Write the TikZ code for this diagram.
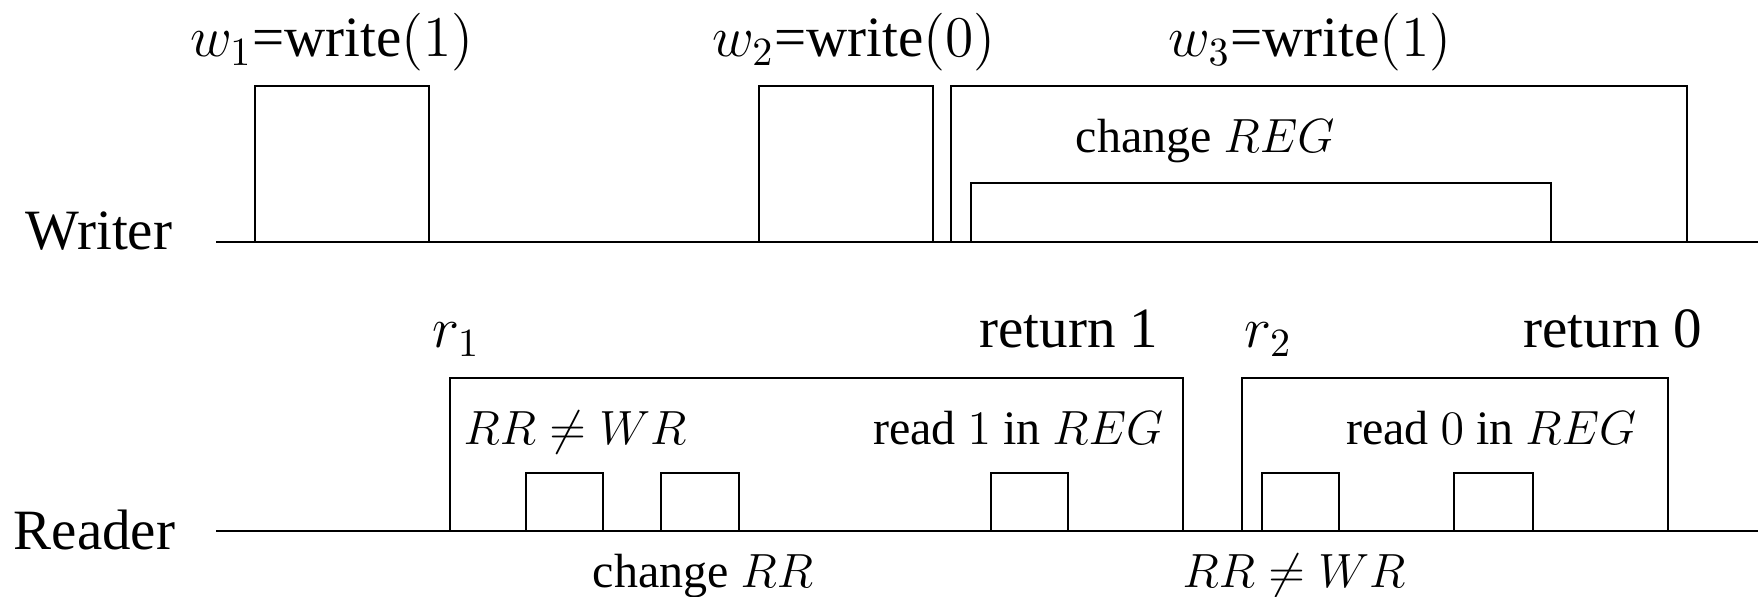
\documentclass[tikz,border=0pt]{standalone}
\usepackage[no-math]{fontspec}
\setmainfont{Liberation Serif}
\begin{document}
\begin{tikzpicture}[x=0.25pt,y=-0.25pt,
  line width=0.35pt,
  big/.style={inner sep=0pt,font=\fontsize{14.25}{17}\selectfont},
  small/.style={inner sep=0pt,font=\fontsize{12}{14}\selectfont}]
\useasboundingbox (0,0) rectangle (1758,597);

% time lines
\node[big,anchor=base west] (writer) at (25,250) {Writer};
\node[big,anchor=base west] (reader) at (13,550) {Reader};
\coordinate (wl0) at (216,242);
\coordinate (wl1) at (1758,242);
\coordinate (rl0) at (216,531);
\coordinate (rl1) at (1758,531);
\draw (wl0) -- (wl1);
\draw (rl0) -- (rl1);

% writer operations
\draw (255,242) |- (429,86) -- (429,242);
\draw (759,242) |- (933,86) -- (933,242);
\draw (951,242) |- (1687,86) -- (1687,242);
\draw (971,242) |- (1551,183) -- (1551,242);

\node[big,anchor=base] (w1) at (332,57) {$w_1$=write$(1)$};
\node[big,anchor=base] (w2) at (854,57) {$w_2$=write$(0)$};
\node[big,anchor=base] (w3) at (1310,57) {$w_3$=write$(1)$};
\node[small,anchor=base west] (chreg) at (1075,153) {change $REG$};

% reader operations
\draw (450,531) |- (1183,378) -- (1183,531);
\draw (526,531) |- (603,473) -- (603,531);
\draw (661,531) |- (739,473) -- (739,531);
\draw (991,531) |- (1068,473) -- (1068,531);
\draw (1242,531) |- (1668,378) -- (1668,531);
\draw (1262,531) |- (1339,473) -- (1339,531);
\draw (1454,531) |- (1533,473) -- (1533,531);

\node[big,anchor=base west] (r1) at (432,348) {$r_1$};
\node[big,anchor=base east] (ret1) at (1159,348) {return 1};
\node[big,anchor=base west] (r2) at (1244,348) {$r_2$};
\node[big,anchor=base east] (ret0) at (1703,348) {return 0};

\node[small,anchor=base west] (neq1) at (463,445) {$RR\neq WR$};
\node[small,anchor=base east] (rd1) at (1164,445) {read $1$ in $REG$};
\node[small,anchor=base east] (rd0) at (1637,445) {read $0$ in $REG$};

\node[small,anchor=base west] (chrr) at (592,588) {change $RR$};
\node[small,anchor=base west] (neq2) at (1182,588) {$RR\neq WR$};
\end{tikzpicture}
\end{document}
